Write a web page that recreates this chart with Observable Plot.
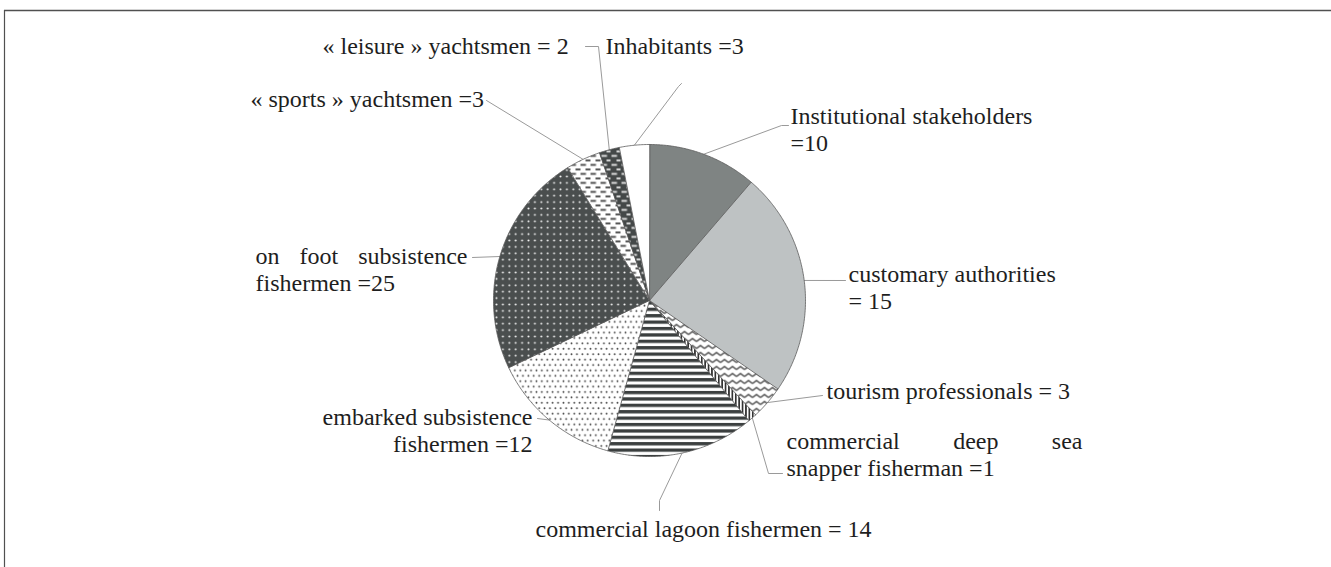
<!DOCTYPE html>
<html><head><meta charset="utf-8">
<script src="https://cdn.jsdelivr.net/npm/d3@7"></script>
<script src="https://cdn.jsdelivr.net/npm/@observablehq/plot@0.6"></script>
<style>
html,body{margin:0;padding:0;background:#fff;}
#chart svg{display:block;}
</style></head><body><div id="chart"></div>
<script>
// ---- data ----
const categories = ["Institutional stakeholders","customary authorities","tourism professionals","commercial deep sea snapper fisherman","commercial lagoon fishermen","embarked subsistence fishermen","on foot subsistence fishermen","« sports » yachtsmen","« leisure » yachtsmen","Inhabitants"];
const counts = [10, 15, 3, 1, 14, 12, 25, 3, 2, 3];
// share of the disc each slice occupies as drawn (%)
const drawnShare = [11.3, 23.3, 3.5, 0.9, 15.3, 13.6, 23.3, 3.6, 2.1, 3.1];
const labelLines = [
  ["Institutional stakeholders", "=10"],
  ["customary authorities", "= 15"],
  ["tourism professionals = 3"],
  ["commercial deep sea", "snapper fisherman =1"],
  ["commercial lagoon fishermen = 14"],
  ["embarked subsistence", "fishermen =12"],
  ["on foot subsistence", "fishermen =25"],
  ["« sports » yachtsmen =3"],
  ["« leisure » yachtsmen = 2"],
  ["Inhabitants =3"]
];
const fills = ["#7f8483","#bec2c3","url(#pWave)","url(#pVhatch)","url(#pHstripe)","url(#pDots)","url(#pDarkDots)","url(#pDash)","url(#pDarkDash)","#ffffff"];

// ---- layout (page pixels) ----
const W = 1331, H = 567;
const cx = 649, cy = 300, R = 156;
const labelPos = [
  {x: 790, y: 123, anchor: "start", just: 0, leader: [[781,125],[788,125]]},
  {x: 848, y: 281, anchor: "start", just: 0, leader: [[845,280]]},
  {x: 826, y: 398, anchor: "start", just: 0, leader: [[822,395]]},
  {x: 786, y: 448, anchor: "start", just: 296, leader: [[768,473],[782,473]]},
  {x: 535, y: 536, anchor: "start", just: 0, leader: [[659,500],[659,510]]},
  {x: 532, y: 424, anchor: "end", just: 0, leader: [[537,418]]},
  {x: 255, y: 263, anchor: "start", just: 212, leader: [[472,257]]},
  {x: 250, y: 106, anchor: "start", just: 0, leader: [[486,100]]},
  {x: 322, y: 53, anchor: "start", just: 0, leader: [[598,46],[585,46]]},
  {x: 605, y: 53, anchor: "start", just: 0, leader: [[678,86],[681,83]]}
];
const lineGap = 27;

// ---- build slices from data ----
const total = d3.sum(drawnShare);
let acc = 0;
const slices = drawnShare.map((v, i) => {
  const a0 = acc / total * 2 * Math.PI;
  acc += v;
  const a1 = acc / total * 2 * Math.PI;
  const pts = [{x: cx, y: cy}];
  const n = Math.max(4, Math.ceil((a1 - a0) / 0.01));
  for (let k = 0; k <= n; k++) {
    const a = a0 + (a1 - a0) * k / n;
    pts.push({x: cx + R * Math.sin(a), y: cy - R * Math.cos(a)});
  }
  return {i, a0, a1, mid: (a0 + a1) / 2, pts};
});

const leaders = slices.map(s => {
  const start = {x: cx + R * Math.sin(s.mid), y: cy - R * Math.cos(s.mid)};
  return [start, ...labelPos[s.i].leader.map(([x, y]) => ({x, y}))];
});

const textRows = [];
labelLines.forEach((lines, i) => {
  lines.forEach((t, j) => textRows.push({text: t, anchor: labelPos[i].anchor, x: labelPos[i].x, y: labelPos[i].y + j * lineGap, just: (j === 0 && lines.length > 1) ? labelPos[i].just : 0}));
});

const textOpts = {x: "x", y: "y", text: "text", lineAnchor: "bottom", fontSize: 24, fill: "#1e1e1e"};
const plot = Plot.plot({
  width: W, height: H,
  margin: 0,
  x: {domain: [0, W], axis: null},
  y: {domain: [0, H], reverse: true, axis: null},
  style: {background: "#fff", fontFamily: "'Liberation Serif','Times New Roman',serif"},
  marks: [
    Plot.ruleY([10], {x1: 4, x2: W, stroke: "#505050", strokeWidth: 1.6}),
    Plot.ruleX([4], {y1: 10, y2: H, stroke: "#505050", strokeWidth: 1.2}),
    ...leaders.map(l => Plot.line(l, {x: "x", y: "y", stroke: "#9a9a9a", strokeWidth: 1})),
    ...slices.map(s => Plot.line(s.pts, {x: "x", y: "y", fill: fills[s.i], stroke: "#5a5a5a", strokeWidth: 0.8, curve: "linear-closed"})),
    Plot.text(textRows.filter(r => r.anchor === "start"), {...textOpts, textAnchor: "start"}),
    Plot.text(textRows.filter(r => r.anchor === "end"), {...textOpts, textAnchor: "end"})
  ]
});

// pattern definitions
const defs = `
<defs>
 <pattern id="pWave" patternUnits="userSpaceOnUse" width="8" height="7">
  <rect width="8" height="7" fill="#fff"/>
  <polyline points="0,5 4,2 8,5" fill="none" stroke="#333" stroke-width="1.3"/>
 </pattern>
 <pattern id="pVhatch" patternUnits="userSpaceOnUse" width="3.4" height="6">
  <rect width="3.4" height="6" fill="#fff"/>
  <rect x="0" width="1.7" height="6" fill="#333"/>
 </pattern>
 <pattern id="pHstripe" patternUnits="userSpaceOnUse" width="10" height="6.4">
  <rect width="10" height="6.4" fill="#fff"/>
  <rect y="0" width="10" height="3.3" fill="#3b3f3f"/>
 </pattern>
 <pattern id="pDots" patternUnits="userSpaceOnUse" width="5.4" height="10.8">
  <rect width="5.4" height="10.8" fill="#fff"/>
  <circle cx="1.35" cy="2.7" r="0.9" fill="#444"/>
  <circle cx="4.05" cy="8.1" r="0.9" fill="#444"/>
 </pattern>
 <pattern id="pDarkDots" patternUnits="userSpaceOnUse" width="6.4" height="6.4">
  <rect width="6.4" height="6.4" fill="#4a4e4e"/>
  <circle cx="3.2" cy="3.2" r="1" fill="#f2f2f2"/>
 </pattern>
 <pattern id="pDash" patternUnits="userSpaceOnUse" width="10" height="9">
  <rect width="10" height="9" fill="#fff"/>
  <rect x="0" y="1.5" width="5.5" height="1.8" fill="#444"/>
  <rect x="5" y="6" width="5.5" height="1.8" fill="#444"/>
 </pattern>
 <pattern id="pDarkDash" patternUnits="userSpaceOnUse" width="10" height="9">
  <rect width="10" height="9" fill="#444848"/>
  <rect x="1" y="1.5" width="5.5" height="1.8" fill="#e6e6e6"/>
  <rect x="6" y="6" width="5.5" height="1.8" fill="#e6e6e6"/>
 </pattern>
</defs>`;
const svgEl = plot.tagName.toLowerCase() === "svg" ? plot : plot.querySelector("svg");
svgEl.insertAdjacentHTML("afterbegin", defs);
document.getElementById("chart").appendChild(plot);

// justify first lines that are justified in the original
const rowsByText = new Map(textRows.map(r => [r.text, r]));
d3.select(svgEl).selectAll("text").each(function () {
  const r = rowsByText.get(this.textContent);
  if (r && r.just) {
    const natural = this.getComputedTextLength();
    const gaps = (r.text.match(/ /g) || []).length;
    if (gaps) this.style.wordSpacing = ((r.just - natural) / gaps) + "px";
  }
});
</script></body></html>
